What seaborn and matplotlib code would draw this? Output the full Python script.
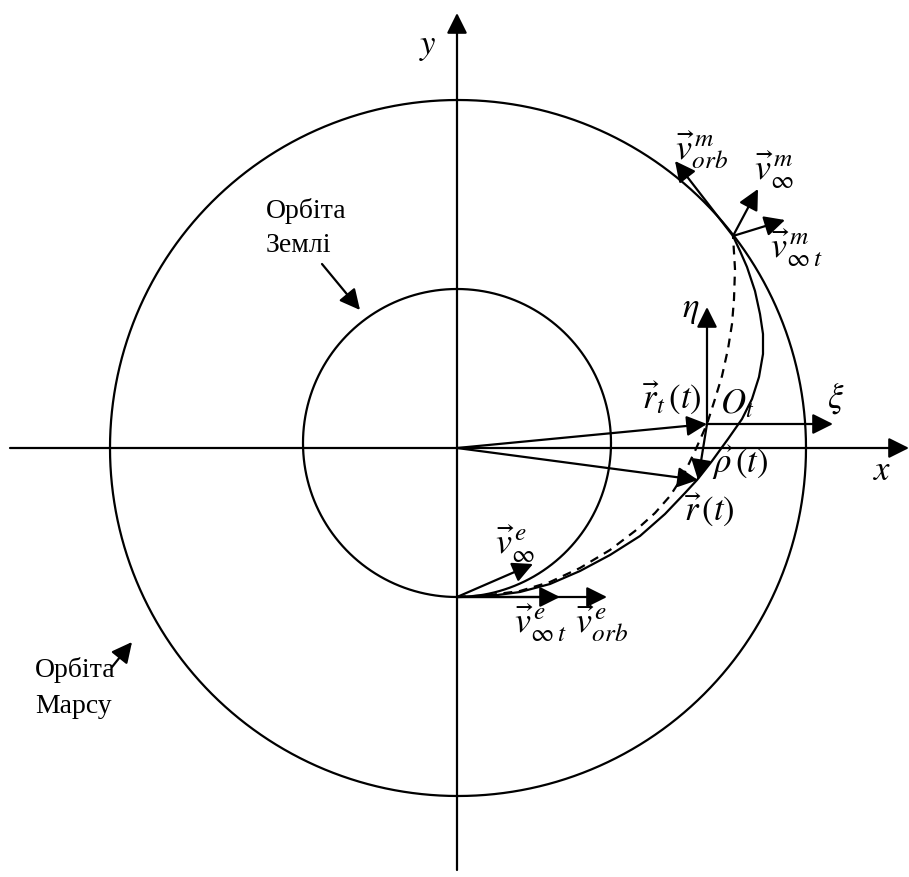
import numpy as np
import pandas as pd
import seaborn as sns
import matplotlib.pyplot as plt

sns.set_theme(style="white")
plt.rcParams["font.family"] = ["Liberation Serif", "DejaVu Serif"]
plt.rcParams["mathtext.fontset"] = "stix"

# Orbit radii and centres (drawing units, Sun at the origin)
earth_center = (0.0, 5.0)
earth_radius = 154.0
mars_center = (1.0, 0.0)
mars_radius = 348.0

# Perturbed transfer trajectory (solid)
traj_x = [0, 33, 63, 93, 123, 153, 183, 208, 228, 240, 255, 271, 285, 295,
          302, 306, 306, 303, 298, 290, 283, 276]
traj_y = [-149, -148, -144, -136, -123, -107, -88, -66, -45, -32, -13, 9, 29,
          49, 71, 94, 114, 134, 157, 181, 197, 212]

# Nominal transfer trajectory (dashed)
nom_x = [0, 33, 63, 93, 123, 153, 178, 198, 213, 226, 238, 250, 258, 265,
         271, 275, 277, 278, 276]
nom_y = [-149, -147, -143, -134, -120, -102, -83, -65, -48, -28, -3, 24, 49,
         72, 99, 124, 149, 179, 212]

# Key points
sun = (0, 0)
departure = (0, -149)
arrival = (276, 212)
origin_t = (250, 24)
craft = (241, -32)

# Vectors: (tail, tip)
vectors = {
    "r_t": (sun, origin_t),
    "r": (sun, craft),
    "rho": (origin_t, craft),
    "xi": (origin_t, (376, 24)),
    "eta": (origin_t, (250, 141)),
    "v_inf_e": (departure, (76, -116)),
    "v_inft_e": (departure, (103, -149)),
    "v_orb_e": (departure, (150, -149)),
    "v_orb_m": (arrival, (218, 287)),
    "v_inf_m": (arrival, (301, 259)),
    "v_inft_m": (arrival, (328, 228)),
    "earth_ptr": ((-135, 184), (-97, 138)),
    "mars_ptr": ((-345, -219), (-325, -194)),
    "x_axis": ((-447, 0), (452, 0)),
    "y_axis": ((0, -422), (0, 435)),
}

fig = plt.figure(figsize=(9.09, 8.78), dpi=100)
ax = fig.add_axes([0, 0, 1, 1])
ax.set_xlim(-457, 452)
ax.set_ylim(-429, 449)
ax.set_aspect("equal")
ax.axis("off")

lw = 1.6
theta = np.linspace(0, 2 * np.pi, 721)
for (cx, cy), r in [(earth_center, earth_radius), (mars_center, mars_radius)]:
    circ = pd.DataFrame({"x": cx + r * np.cos(theta), "y": cy + r * np.sin(theta)})
    sns.lineplot(data=circ, x="x", y="y", sort=False, estimator=None,
                 color="black", lw=lw, ax=ax)

sns.lineplot(x=traj_x, y=traj_y, sort=False, estimator=None, color="black",
             lw=lw, ax=ax)
sns.lineplot(x=nom_x, y=nom_y, sort=False, estimator=None, color="black",
             lw=lw, linestyle=(0, (4, 3)), ax=ax)

arrow_style = dict(arrowstyle="-|>,head_length=0.62,head_width=0.31",
                   mutation_scale=20, lw=lw, color="black",
                   shrinkA=0, shrinkB=0)
for tail, tip in vectors.values():
    ax.annotate("", xy=tip, xytext=tail, arrowprops=arrow_style)

ms = 25  # maths labels
vs = 26  # velocity labels
ts = 20  # text labels

def label(x, y, s, size=ms, **kw):
    kw.setdefault("ha", "center")
    kw.setdefault("va", "center")
    ax.text(x, y, s, fontsize=size, color="black", **kw)

label(-29, 403, r"$y$")
label(425, -22, r"$x$")
label(234, 139, r"$\eta$")
label(379, 51, r"$\xi$")
label(263, 36, r"$O_t$", ha="left", va="baseline")
label(215, 51, r"$\vec{r}_t\,(t)$")
label(283, -14, r"$\vec{\rho}\,(t)$")
label(252, -61, r"$\vec{r}\,(t)$")
label(58, -95, r"$\vec{v}_{\infty}^{\,e}$", size=vs)
label(83, -174, r"$\vec{v}_{\infty\,t}^{\,e}$", size=vs)
label(145, -174, r"$\vec{v}_{orb}^{\,e}$", size=vs)
label(245, 299, r"$\vec{v}_{orb}^{\,m}$", size=vs)
label(317, 279, r"$\vec{v}_{\infty}^{\,m}$", size=vs)
label(339, 201, r"$\vec{v}_{\infty\,t}^{\,m}$", size=vs)

label(-191, 231, "Орбіта", size=ts, ha="left", va="baseline")
label(-191, 197, "Землі", size=ts, ha="left", va="baseline")
label(-422, -228, "Орбіта", size=ts, ha="left", va="baseline")
label(-422, -264, "Марсу", size=ts, ha="left", va="baseline")

fig.savefig("out.png", dpi=100)
